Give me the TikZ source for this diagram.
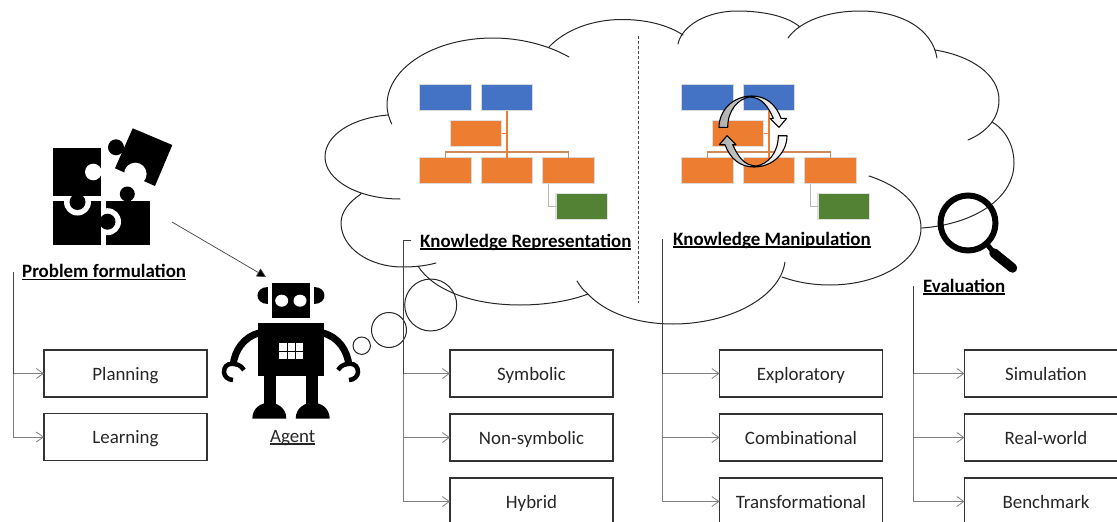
\documentclass[tikz,border=0pt]{standalone}
\usepackage{fontspec}
\setmainfont{Carlito}
\newcommand\myuline[1]{\setbox0\hbox{#1}\leavevmode\rlap{\vrule height -1.3pt depth 2.9pt width\wd0}\box0}
\usetikzlibrary{arrows.meta,shadings}
\definecolor{oblue}{HTML}{4472C4}
\definecolor{oorange}{HTML}{ED7D31}
\definecolor{ogreen}{HTML}{548235}
\definecolor{obus}{HTML}{D08A5A}
\definecolor{otext}{HTML}{262626}
\tikzset{
  x=1pt,y=-1pt,
  cloudline/.style={draw=black!85,line width=1pt},
  itembox/.style={draw=black!80,line width=1.1pt,minimum width=163pt,minimum height=47pt,inner sep=0pt,outer sep=0pt,text=otext,text height=13pt,text depth=0pt,font=\fontsize{18.9}{22}\selectfont},
  heading/.style={inner sep=0pt,text=black,font=\fontsize{18.9}{22}\selectfont\bfseries},
  branch/.style={draw=black!50,line width=1pt,-{Straight Barb[length=7pt,width=10pt,line width=.8pt]}},
  trunk/.style={draw=black!75,line width=1pt},
  orgbox/.style={draw=black!15,line width=1.1pt,inner sep=0pt,outer sep=0pt,minimum width=51.5pt,minimum height=26pt},
  orgline/.style={draw=oorange,line width=1.4pt},
  orgbus/.style={draw=obus,line width=1.6pt},
  orggray/.style={draw=black!28,line width=1.6pt},
  orgchart/.pic={
    \node[orgbox,fill=oblue] (-b1) at (445.3,97.5) {};
    \node[orgbox,fill=oblue] (-b2) at (507,97.5) {};
    \node[orgbox,fill=oorange,draw=black!12] (-m) at (476,133.5) {};
    \node[orgbox,fill=oorange] (-r1) at (445.3,170.5) {};
    \node[orgbox,fill=oorange] (-r2) at (507,170.5) {};
    \node[orgbox,fill=oorange] (-r3) at (568.5,170.5) {};
    \node[orgbox,fill=ogreen,draw=black!12] (-g) at (581.7,206.5) {};
    \coordinate (-bus) at (507,151.7);
    \draw[orgbus] (-r1.north) |- (-bus) -| (-r3.north);
    \draw[orgline] (-b2.south) -- (-r2.north);
    \draw[orgline] (-m.east) -- (-m.east -| -b2.south);
    \draw[orggray] ([xshift=-20pt]-r3.south) |- (-g.west);
  },
  halfcycle/.pic={
    \draw[black,line width=1.1pt,line join=round,left color=black!32,middle color=black!22,right color=white]
      (-34,-4.2) .. controls (-34,-21) and (-20,-35.5) .. (-1,-35.5)
      .. controls (13,-35.5) and (23,-27) .. (28,-13.2)
      -- (33.7,-13.2) -- (26,-4.2) -- (17,-13.2) -- (20.3,-13.2)
      .. controls (15,-25) and (9,-34) .. (-3,-34.5)
      .. controls (-15,-33) and (-25.3,-21) .. (-25.3,-4.2) -- cycle;
  }
}
\begin{document}
\begin{tikzpicture}
\clip (0,0) rectangle (1117,522);

% cloud
\draw[cloudline,line cap=round]
 (391.7,124) .. controls (389,118) and (387,112) .. (387,105) .. controls (387,68) and (434,38) .. (493,38) .. controls (520,38) and (548,45) .. (569,57)
 (549,47) .. controls (565,30) and (592,19.5) .. (622,19.5) .. controls (646,19.5) and (668,25) .. (683,35)
 (678,44) .. controls (682,25) and (708,11) .. (737,11) .. controls (763,11) and (787,16) .. (800,27)
 (788,38) .. controls (800,21) and (828,11) .. (860,11) .. controls (900,11) and (932,28) .. (937,58)
 (935,50) .. controls (972,56) and (999,75) .. (999,100) .. controls (999,118) and (987,132) .. (968,140)
 (992,122) .. controls (1006,130) and (1014,146) .. (1014,163) .. controls (1014,198) and (975,224) .. (922,228)
 (869,176) .. controls (900,186) and (921,205) .. (921,228) .. controls (921,260) and (880,285) .. (830,285) .. controls (812,285) and (796,282) .. (782,277)
 (785,262) .. controls (780,297) and (730,324) .. (673,324) .. controls (635,324) and (604,312) .. (587,293) .. controls (583,290) and (580,286) .. (577,281)
 (588,294) .. controls (570,301) and (545,305) .. (520,305) .. controls (472,305) and (433,290) .. (418,266)
 (436,263) .. controls (425,266) and (414,267) .. (403,267) .. controls (368,267) and (341,247) .. (341,223) .. controls (341,212) and (349,202) .. (361,194)
 (400,199) .. controls (358,199) and (325,180) .. (325,157) .. controls (325,135) and (352,118) .. (388,115);

% thought bubbles
\draw[cloudline] (430.7,305) circle[radius=26pt] (389,330) circle[radius=17.5pt] (361.7,345.7) circle[radius=8.7pt];

% divider
\coordinate (divTop) at (638.3,36);
\coordinate (divBot) at (638.3,302.7);
\draw[black!70,line width=.8pt,dash pattern=on 3pt off 2pt] (divTop) -- (divBot);

% org charts
\pic (L) at (0,0) {orgchart};
\pic (R) at (262,0) {orgchart};
\pic at (753,131.5) {halfcycle};
\pic[rotate=180] at (753,131.5) {halfcycle};

% headings
\node[heading,anchor=base west] (pf) at (22,277.5) {\myuline{Problem formulation}};
\node[heading,anchor=base west] (kr) at (420,247) {\myuline{Knowledge Representation}};
\node[heading,anchor=base west] (km) at (673,245) {\myuline{Knowledge Manipulation}};
\node[heading,anchor=base west] (ev) at (923,292) {\myuline{Evaluation}};
\node[inner sep=0pt,anchor=base,text=otext,font=\fontsize{18.9}{22}\selectfont] (agent) at (292.7,442) {\myuline{Agent}};

% item boxes
\node[itembox] (planning) at (125.5,373.5) {Planning};
\node[itembox] (learning) at (125.5,437) {Learning};
\node[itembox] (symbolic) at (531.5,373.5) {Symbolic};
\node[itembox] (nonsym) at (531.5,437.5) {Non-symbolic};
\node[itembox] (hybrid) at (531.5,501.5) {Hybrid};
\node[itembox] (explor) at (801,373.5) {Exploratory};
\node[itembox] (combi) at (801,437.5) {Combinational};
\node[itembox] (transf) at (801,501.5) {Transformational};
\node[itembox] (simul) at (1046,373.5) {Simulation};
\node[itembox] (realw) at (1046,437.5) {Real-world};
\node[itembox] (bench) at (1046,501.5) {Benchmark};

% connectors
\coordinate (pfTop) at (13,272);
\coordinate (krStub) at (411,240);
\coordinate (krTop) at (403.5,240);
\coordinate (kmTop) at (662.7,239);
\coordinate (evTop) at (913.7,286);
\foreach \t/\a in {pfTop/planning,pfTop/learning,krTop/symbolic,krTop/nonsym,krTop/hybrid,kmTop/explor,kmTop/combi,kmTop/transf,evTop/simul,evTop/realw,evTop/bench}{
  \draw[branch] (\t) |- (\a.west);
}
\draw[trunk] (pfTop) -- (pfTop |- planning.west);
\draw[trunk] (krStub) -- (krTop) -- (krTop |- symbolic.west);
\draw[trunk] (kmTop) -- (kmTop |- explor.west);
\draw[trunk] (evTop) -- (evTop |- simul.west);

% puzzle
\begin{scope}
\fill[black] (53.3,148.3) rectangle (101,196);
\fill[white] (93.3,172) circle[radius=8.3pt];
\fill[black] (53.3,201) rectangle (101,245);
\fill[black] (106,201) rectangle (150,245);
\begin{scope}
\clip (60,201) rectangle (95,222);
\fill[white] (77.5,202) circle[radius=13.5pt];
\end{scope}
\fill[black] (77.5,202) circle[radius=8pt];
\begin{scope}
\clip (106,201) rectangle (125,240);
\fill[white] (107.5,221.7) circle[radius=13.5pt];
\end{scope}
\fill[black] (107.5,221.7) circle[radius=8pt];
\fill[black] (127.3,194) circle[radius=7.5pt];
\fill[black] (123.5,197) rectangle (131,203);
\fill[black] (132.7,128.3) -- (172.3,145) -- (155,186) -- (115,168.3) -- cycle;
\fill[black] (116,147.3) circle[radius=8pt];
\fill[white] (135.3,174) circle[radius=11.3pt];
\end{scope}

% problem -> agent
\coordinate (probIcon) at (172,222);
\coordinate (robotTop) at (266,277);
\draw[black!75,line width=.7pt,-{Triangle[length=9pt,width=9pt,fill=black]}] (probIcon) -- (robotTop);

% robot
\begin{scope}
\fill[black] (272.3,282.7) rectangle (309.7,317.7);
\fill[white] (281.7,300.7) circle[x radius=6.5pt,y radius=6pt] (300,300.7) circle[x radius=6.5pt,y radius=6pt];
\fill[black] (257.7,323.3) rectangle (324.3,376);
\fill[white] (279.3,343.3) rectangle (303,359.3);
\draw[black,line width=1pt] (287.2,343.3) -- (287.2,359.3) (295.1,343.3) -- (295.1,359.3) (279.3,351.3) -- (303,351.3);
\foreach \m in {0,1}{
 \begin{scope}[shift={(582*\m,0)},xscale=1-2*\m]
  \fill[black] (268.3,286.7) .. controls (254,286.7) and (254,304.3) .. (268.3,304.3) -- cycle;
  \fill[black] (264.3,376) rectangle (275.7,406);
  \fill[black] (252.3,418.7) .. controls (252.3,408) and (261,402.7) .. (269.3,402.7) .. controls (277.5,402.7) and (286.3,408) .. (286.3,418.7) -- cycle;
  \draw[black,line width=7pt] (259,333) .. controls (244,337) and (234.5,350) .. (233,366);
  \draw[black,line width=4.5pt] (244,370) .. controls (241,365) and (236,363.7) .. (232,363.7) .. controls (227,363.7) and (224,367) .. (224,372) .. controls (224,376) and (228,380) .. (233,380);
 \end{scope}
}
\end{scope}

% magnifier
\draw[black,line width=6pt] (968,223) circle[radius=27.5pt];
\draw[black,line width=5pt] (986,243) -- (994,253);
\draw[black,line width=9.5pt,line cap=round] (994,253) -- (1012.5,268);
\end{tikzpicture}
\end{document}
